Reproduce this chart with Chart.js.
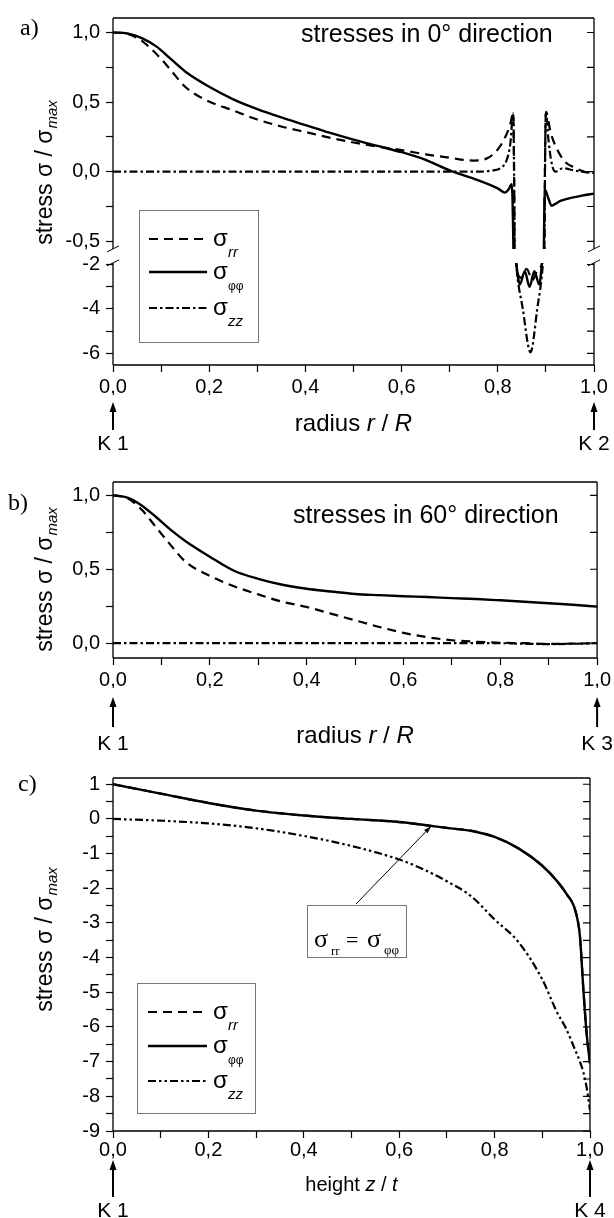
<!DOCTYPE html>
<html>
<head>
<meta charset="utf-8">
<title>Stress distribution</title>
<script src="https://cdn.jsdelivr.net/npm/chart.js@4.4.1/dist/chart.umd.min.js"></script>
<style>
  html, body { margin: 0; padding: 0; background: #fff; }
  body { position: relative; width: 614px; height: 1218px; overflow: hidden; }
  canvas { position: absolute; left: 0; }
</style>
</head>
<body>
<canvas id="panel-a" width="614" height="460" style="top:0px"></canvas>
<canvas id="panel-b" width="614" height="300" style="top:460px"></canvas>
<canvas id="panel-c" width="614" height="458" style="top:760px"></canvas>
<script>
const SANS = "'Liberation Sans', Arial, Helvetica, sans-serif";
const SERIF = "'Liberation Serif', 'Times New Roman', serif";

// a) stresses in 0° direction, x = r/R
const radiusA_rr = [0, 0.03, 0.06, 0.08, 0.1, 0.12, 0.15, 0.19, 0.25, 0.3, 0.35, 0.4, 0.45, 0.5, 0.55, 0.6, 0.65, 0.7, 0.75, 0.78, 0.8, 0.815, 0.825, 0.832, 0.838, 0.848, 0.86, 0.872, 0.884, 0.893, 0.9, 0.91, 0.922, 0.94, 0.96, 0.98, 1.0];
const stressA_rr = [1.0, 0.99, 0.94, 0.88, 0.81, 0.73, 0.61, 0.52, 0.44, 0.375, 0.325, 0.285, 0.245, 0.21, 0.18, 0.155, 0.125, 0.1, 0.08, 0.1, 0.16, 0.245, 0.33, 0.42, -1.9, -2.6, -2.2, -2.7, -2.2, -1.9, 0.43, 0.28, 0.17, 0.07, 0.03, 0.0, -0.01];
const radiusA_pp = [0, 0.03, 0.06, 0.09, 0.12, 0.15, 0.2, 0.25, 0.3, 0.35, 0.4, 0.45, 0.5, 0.55, 0.6, 0.65, 0.7, 0.75, 0.8, 0.815, 0.822, 0.829, 0.838, 0.846, 0.856, 0.866, 0.876, 0.886, 0.892, 0.898, 0.905, 0.912, 0.92, 0.93, 0.95, 0.975, 1.0];
const stressA_pp = [1.0, 0.993, 0.96, 0.9, 0.81, 0.72, 0.61, 0.52, 0.45, 0.39, 0.335, 0.28, 0.23, 0.185, 0.14, 0.085, 0.01, -0.05, -0.12, -0.15, -0.13, -0.09, -1.9, -2.9, -2.3, -3.0, -2.3, -2.9, -1.9, -0.13, -0.19, -0.245, -0.23, -0.21, -0.19, -0.172, -0.157];
const radiusA_zz = [0, 0.1, 0.2, 0.3, 0.4, 0.5, 0.6, 0.7, 0.76, 0.79, 0.805, 0.818, 0.826, 0.832, 0.838, 0.852, 0.868, 0.882, 0.894, 0.9, 0.905, 0.912, 0.92, 0.935, 0.955, 0.975, 1.0];
const stressA_zz = [0, 0, 0, 0, 0, 0, 0, 0, 0, 0.01, 0.025, 0.08, 0.2, 0.42, -1.9, -4.0, -5.95, -4.0, -1.9, 0.43, 0.24, 0.06, 0.0, 0.025, 0.012, 0.0, -0.01];

// b) stresses in 60° direction
const radiusB = [0, 0.03, 0.06, 0.09, 0.12, 0.15, 0.2, 0.25, 0.3, 0.35, 0.4, 0.45, 0.5, 0.55, 0.6, 0.65, 0.7, 0.75, 0.8, 0.85, 0.9, 0.95, 1.0];
const stressB_rr = [1.0, 0.98, 0.9, 0.78, 0.66, 0.55, 0.455, 0.385, 0.33, 0.28, 0.245, 0.2, 0.155, 0.11, 0.07, 0.04, 0.02, 0.01, 0.003, 0.0, -0.005, -0.003, 0.0];
const stressB_pp = [1.0, 0.985, 0.93, 0.85, 0.765, 0.69, 0.585, 0.49, 0.435, 0.395, 0.368, 0.35, 0.333, 0.325, 0.318, 0.312, 0.305, 0.299, 0.29, 0.28, 0.27, 0.26, 0.247];
const stressB_zz = [0, 0, 0, 0, 0, 0, 0, 0, 0, 0, 0, 0, 0, 0, 0, 0, 0, 0, 0, -0.004, -0.006, -0.004, 0];

// c) along the height, x = z/t  (sigma_rr = sigma_phiphi)
const heightC = [0, 0.1, 0.2, 0.3, 0.4, 0.5, 0.6, 0.65, 0.7, 0.75, 0.8, 0.85, 0.9, 0.93, 0.95, 0.97, 0.979, 0.986, 0.993, 1.0];
const stressC_rr = [1.0, 0.73, 0.46, 0.24, 0.1, 0.0, -0.09, -0.17, -0.26, -0.34, -0.52, -0.85, -1.35, -1.78, -2.15, -2.68, -3.4, -4.9, -6.2, -7.05];
const stressC_pp = [1.0, 0.73, 0.46, 0.24, 0.1, 0.0, -0.09, -0.17, -0.26, -0.34, -0.52, -0.85, -1.35, -1.78, -2.15, -2.68, -3.4, -4.9, -6.2, -7.05];
const stressC_zz = [0, -0.05, -0.13, -0.27, -0.49, -0.78, -1.17, -1.45, -1.8, -2.22, -2.9, -3.55, -4.63, -5.55, -6.05, -6.7, -7.0, -7.3, -7.75, -8.4];

// ticks
const xTicks = [0, 0.1, 0.2, 0.3, 0.4, 0.5, 0.6, 0.7, 0.8, 0.9, 1.0];
const xTickLabels = ['0,0', '', '0,2', '', '0,4', '', '0,6', '', '0,8', '', '1,0'];
const yTopTicksA = [-0.5, -0.25, 0, 0.25, 0.5, 0.75, 1.0];
const yTopLabelsA = ['-0,5', '', '0,0', '', '0,5', '', '1,0'];
const yBotTicksA = [-6, -5, -4, -3, -2];
const yBotLabelsA = ['-6', '', '-4', '', '-2'];
const yTicksB = [0, 0.25, 0.5, 0.75, 1.0];
const yLabelsB = ['0,0', '', '0,5', '', '1,0'];
const yTicksC = [-9, -8.5, -8, -7.5, -7, -6.5, -6, -5.5, -5, -4.5, -4, -3.5, -3, -2.5, -2, -1.5, -1, -0.5, 0, 0.5, 1];
const yLabelsC = ['-9', '', '-8', '', '-7', '', '-6', '', '-5', '', '-4', '', '-3', '', '-2', '', '-1', '', '0', '', '1'];

Chart.defaults.font.family = SANS;
Chart.defaults.font.size = 20;
Chart.defaults.color = '#000';

const lineRR = { borderColor: '#000', borderWidth: 2.2, borderDash: [9, 6] };
const linePP = { borderColor: '#000', borderWidth: 2.4, borderDash: [] };
const lineZZ = { borderColor: '#000', borderWidth: 2.2, borderDash: [8, 3, 2.5, 3] };
const lineZZc = { borderColor: '#000', borderWidth: 2.2, borderDash: [8, 3, 2.5, 3, 2.5, 3] };

function series(xs, ys, style, yAxisID) {
  return Object.assign({
    data: xs.map((x, i) => ({ x: x, y: ys[i] })),
    yAxisID: yAxisID || 'y',
    pointRadius: 0,
    fill: false,
    cubicInterpolationMode: 'monotone',
    capBezierPoints: false
  }, style);
}

function fixedTicks(values) {
  return (scale) => { scale.ticks = values.map((v) => ({ value: v })); };
}

function xAxis(labelPad) {
  return {
    type: 'linear', min: 0, max: 1,
    afterBuildTicks: fixedTicks(xTicks),
    afterFit: (s) => { s.height = 30; },
    ticks: { callback: (v, i) => xTickLabels[i], autoSkip: false, maxRotation: 0, padding: labelPad },
    grid: { drawOnChartArea: false, tickLength: 7, tickColor: '#000', tickWidth: 1.2 },
    border: { display: false }
  };
}

function yAxis(min, max, values, labels, extra) {
  return Object.assign({
    type: 'linear', position: 'left', min: min, max: max,
    afterBuildTicks: fixedTicks(values),
    afterFit: (s) => { s.width = 113; },
    ticks: { callback: (v, i) => labels[i], autoSkip: false, padding: 6 },
    grid: { drawOnChartArea: false, tickLength: 7, tickColor: '#000', tickWidth: 1.2 },
    border: { display: false }
  }, extra || {});
}

// the two pieces of the broken axis in a)
function brokenParts(chart) {
  const t = chart.scales.yTop, b = chart.scales.yBot;
  return [[t.top, t.bottom - 4], [b.top + 10, b.bottom]];
}

const breakClip = {
  id: 'breakClip',
  beforeDatasetDraw(chart, args) {
    const p = brokenParts(chart)[args.meta.yAxisID === 'yTop' ? 0 : 1];
    const a = chart.chartArea;
    chart.ctx.save();
    chart.ctx.beginPath();
    chart.ctx.rect(a.left, p[0], a.right - a.left, p[1] - p[0]);
    chart.ctx.clip();
  },
  afterDatasetDraw(chart) {
    chart.ctx.restore();
  }
};

function drawSigma(ctx, x, y, sub, italic, size) {
  ctx.font = '24px ' + SANS;
  ctx.fillText('σ', x, y + 7);
  ctx.font = (italic ? 'italic ' : '') + size + 'px ' + SANS;
  ctx.fillText(sub, x + 15, y + 18);
}

function drawDecor(chart, cfg) {
  const ctx = chart.ctx;
  const area = chart.chartArea;
  const xs = chart.scales.x;
  const parts = cfg.broken ? brokenParts(chart) : [[area.top, area.bottom]];
  ctx.save();
  ctx.strokeStyle = '#000';
  ctx.fillStyle = '#000';
  ctx.textAlign = 'left';
  ctx.textBaseline = 'alphabetic';

  // frame
  ctx.lineWidth = 1.3;
  ctx.beginPath();
  ctx.moveTo(area.left, area.top); ctx.lineTo(area.right, area.top);
  ctx.moveTo(area.left, area.bottom); ctx.lineTo(area.right, area.bottom);
  parts.forEach((p) => {
    ctx.moveTo(area.left, p[0]); ctx.lineTo(area.left, p[1]);
    ctx.moveTo(area.right, p[0]); ctx.lineTo(area.right, p[1]);
  });
  ctx.stroke();
  if (cfg.broken) {
    ctx.lineWidth = 1;
    ctx.beginPath();
    [parts[0][1], parts[1][0]].forEach((y) => {
      [area.left, area.right].forEach((x) => {
        ctx.moveTo(x - 6, y + 3); ctx.lineTo(x + 6, y - 3);
      });
    });
    ctx.stroke();
  }

  // inward ticks on the right side
  ctx.lineWidth = 1.2;
  ctx.beginPath();
  Object.values(chart.scales).forEach((s) => {
    if (s.axis !== 'y') return;
    s.ticks.forEach((t) => {
      const py = s.getPixelForValue(t.value);
      if (parts.some((p) => py >= p[0] - 0.5 && py <= p[1] + 0.5)) {
        ctx.moveTo(area.right, py); ctx.lineTo(area.right - 7, py);
      }
    });
  });
  ctx.stroke();

  // panel letter and title
  ctx.font = '24px ' + SERIF;
  ctx.fillText(cfg.letter[0], cfg.letter[1], cfg.letter[2]);
  if (cfg.title) {
    ctx.font = '25px ' + SANS;
    ctx.fillText(cfg.title[0], cfg.title[1], cfg.title[2]);
  }

  // y title: stress σ / σmax
  ctx.save();
  ctx.translate(52, cfg.yTitleY);
  ctx.rotate(-Math.PI / 2);
  ctx.font = '23px ' + SANS;
  const main = 'stress σ / σ';
  const wMain = ctx.measureText(main).width;
  ctx.font = 'italic 15px ' + SANS;
  const wSub = ctx.measureText('max').width;
  const x0 = -(wMain + wSub) / 2;
  ctx.font = '23px ' + SANS;
  ctx.fillText(main, x0, 0);
  ctx.font = 'italic 15px ' + SANS;
  ctx.fillText('max', x0 + wMain + 1, 5);
  ctx.restore();

  // x title with italic symbols
  const xt = cfg.xTitle;
  let total = 0;
  xt.parts.forEach((p) => {
    ctx.font = (p[1] ? 'italic ' : '') + xt.size + 'px ' + SANS;
    total += ctx.measureText(p[0]).width;
  });
  let cx = (area.left + area.right) / 2 - total / 2;
  xt.parts.forEach((p) => {
    ctx.font = (p[1] ? 'italic ' : '') + xt.size + 'px ' + SANS;
    ctx.fillText(p[0], cx, xt.y);
    cx += ctx.measureText(p[0]).width;
  });

  // arrows with K labels at both ends of the x axis
  [xs.getPixelForValue(0), xs.getPixelForValue(1)].forEach((x, i) => {
    ctx.lineWidth = 2;
    ctx.beginPath();
    ctx.moveTo(x, cfg.arrow[1]);
    ctx.lineTo(x, cfg.arrow[0] + 8);
    ctx.stroke();
    ctx.beginPath();
    ctx.moveTo(x, cfg.arrow[0]);
    ctx.lineTo(x - 3.5, cfg.arrow[0] + 10);
    ctx.lineTo(x + 3.5, cfg.arrow[0] + 10);
    ctx.closePath();
    ctx.fill();
    ctx.font = '21px ' + SANS;
    ctx.textAlign = 'center';
    ctx.fillText(cfg.kLabels[i], x, cfg.kY);
    ctx.textAlign = 'left';
  });

  // legend box
  if (cfg.legend) {
    const L = cfg.legend;
    const b = L.box;
    ctx.fillStyle = '#fff';
    ctx.fillRect(b[0], b[1], b[2] - b[0], b[3] - b[1]);
    ctx.strokeStyle = '#777';
    ctx.lineWidth = 1;
    ctx.strokeRect(b[0] + 0.5, b[1] + 0.5, b[2] - b[0], b[3] - b[1]);
    L.rows.forEach((r) => {
      ctx.strokeStyle = '#000';
      ctx.lineWidth = r.style.borderWidth;
      ctx.setLineDash(r.style.borderDash);
      ctx.beginPath();
      ctx.moveTo(L.line[0], r.y);
      ctx.lineTo(L.line[1], r.y);
      ctx.stroke();
      ctx.setLineDash([]);
      ctx.fillStyle = '#000';
      drawSigma(ctx, L.tx, r.y, r.sub, r.italic, r.size);
    });
  }

  // note box "σrr = σφφ" with pointer to the curve
  if (cfg.note) {
    const n = cfg.note;
    const ys = chart.scales.y;
    const tx = xs.getPixelForValue(n.target[0]);
    const ty = ys.getPixelForValue(n.target[1]);
    ctx.strokeStyle = '#000';
    ctx.lineWidth = 1;
    ctx.beginPath();
    ctx.moveTo(n.from[0], n.from[1]);
    ctx.lineTo(tx, ty);
    ctx.stroke();
    const ang = Math.atan2(ty - n.from[1], tx - n.from[0]);
    ctx.beginPath();
    ctx.moveTo(tx, ty);
    ctx.lineTo(tx - 8 * Math.cos(ang - 0.3), ty - 8 * Math.sin(ang - 0.3));
    ctx.lineTo(tx - 8 * Math.cos(ang + 0.3), ty - 8 * Math.sin(ang + 0.3));
    ctx.closePath();
    ctx.fill();
    const b = n.box;
    ctx.fillStyle = '#fff';
    ctx.fillRect(b[0], b[1], b[2] - b[0], b[3] - b[1]);
    ctx.strokeStyle = '#777';
    ctx.strokeRect(b[0] + 0.5, b[1] + 0.5, b[2] - b[0], b[3] - b[1]);
    ctx.fillStyle = '#000';
    ctx.font = '26px ' + SERIF;
    ctx.fillText('σ', 314, n.baseline);
    ctx.fillText('σ', 367, n.baseline);
    ctx.font = '22px ' + SERIF;
    ctx.fillText('=', 346, n.baseline);
    ctx.font = '13px ' + SERIF;
    ctx.fillText('rr', 331, n.baseline + 8);
    ctx.fillText('φφ', 384, n.baseline + 7);
  }
  ctx.restore();
}

function decorPlugin(cfg) {
  return { id: 'decor', afterDraw(chart) { drawDecor(chart, cfg); } };
}

const common = {
  responsive: false,
  animation: false,
  devicePixelRatio: 1,
  events: [],
  plugins: { legend: { display: false }, tooltip: { enabled: false } }
};

// panel a
new Chart(document.getElementById('panel-a'), {
  type: 'line',
  data: {
    datasets: [
      series(radiusA_rr, stressA_rr, lineRR, 'yTop'),
      series(radiusA_rr, stressA_rr, lineRR, 'yBot'),
      series(radiusA_pp, stressA_pp, linePP, 'yTop'),
      series(radiusA_pp, stressA_pp, linePP, 'yBot'),
      series(radiusA_zz, stressA_zz, lineZZ, 'yTop'),
      series(radiusA_zz, stressA_zz, lineZZ, 'yBot')
    ]
  },
  options: Object.assign({}, common, {
    layout: { autoPadding: false, padding: { top: 6, bottom: 65, left: 0, right: 20 } },
    scales: {
      x: xAxis(3),
      yBot: yAxis(-6.52, -1.478, yBotTicksA, yBotLabelsA, { stack: 'a', stackWeight: 116, weight: 1 }),
      yTop: yAxis(-0.583, 1.104, yTopTicksA, yTopLabelsA, { stack: 'a', stackWeight: 243, weight: 2 })
    }
  }),
  plugins: [breakClip, decorPlugin({
    broken: true,
    letter: ['a)', 20, 35],
    title: ['stresses in 0° direction', 301, 42],
    yTitleY: 173,
    xTitle: { parts: [['radius ', false], ['r', true], [' / ', false], ['R', true]], size: 24, y: 431 },
    arrow: [402, 430], kY: 450, kLabels: ['K 1', 'K 2'],
    legend: {
      box: [139, 210, 258, 342], line: [149, 207], tx: 213,
      rows: [
        { style: lineRR, y: 239, sub: 'rr', italic: true, size: 15 },
        { style: linePP, y: 272, sub: 'φφ', italic: false, size: 12 },
        { style: lineZZ, y: 308, sub: 'zz', italic: true, size: 15 }
      ]
    }
  })]
});

// panel b
new Chart(document.getElementById('panel-b'), {
  type: 'line',
  data: {
    datasets: [
      series(radiusB, stressB_rr, lineRR),
      series(radiusB, stressB_pp, linePP),
      series(radiusB, stressB_zz, lineZZ)
    ]
  },
  options: Object.assign({}, common, {
    layout: { autoPadding: false, padding: { top: 22, bottom: 72, left: 0, right: 16 } },
    scales: {
      x: xAxis(3),
      y: yAxis(-0.1, 1.09, yTicksB, yLabelsB)
    }
  }),
  plugins: [decorPlugin({
    letter: ['b)', 8, 50],
    title: ['stresses in 60° direction', 293, 63],
    yTitleY: 120,
    xTitle: { parts: [['radius ', false], ['r', true], [' / ', false], ['R', true]], size: 24, y: 283 },
    arrow: [237, 267], kY: 290, kLabels: ['K 1', 'K 3']
  })]
});

// panel c
new Chart(document.getElementById('panel-c'), {
  type: 'line',
  data: {
    datasets: [
      series(heightC, stressC_rr, lineRR),
      series(heightC, stressC_pp, linePP),
      series(heightC, stressC_zz, lineZZc)
    ]
  },
  options: Object.assign({}, common, {
    layout: { autoPadding: false, padding: { top: 17, bottom: 57, left: 0, right: 24 } },
    scales: {
      x: xAxis(0),
      y: yAxis(-9, 1.18, yTicksC, yLabelsC)
    }
  }),
  plugins: [decorPlugin({
    letter: ['c)', 18, 31],
    yTitleY: 180,
    xTitle: { parts: [['height ', false], ['z', true], [' / ', false], ['t', true]], size: 20, y: 431 },
    arrow: [400, 437], kY: 457, kLabels: ['K 1', 'K 4'],
    legend: {
      box: [137, 223, 255, 353], line: [148, 207], tx: 213,
      rows: [
        { style: lineRR, y: 252, sub: 'rr', italic: true, size: 15 },
        { style: linePP, y: 286, sub: 'φφ', italic: false, size: 12 },
        { style: lineZZc, y: 321, sub: 'zz', italic: true, size: 15 }
      ]
    },
    note: { box: [307, 145, 406, 197], from: [356, 144], target: [0.667, -0.21], baseline: 187 }
  })]
});
</script>
</body>
</html>
